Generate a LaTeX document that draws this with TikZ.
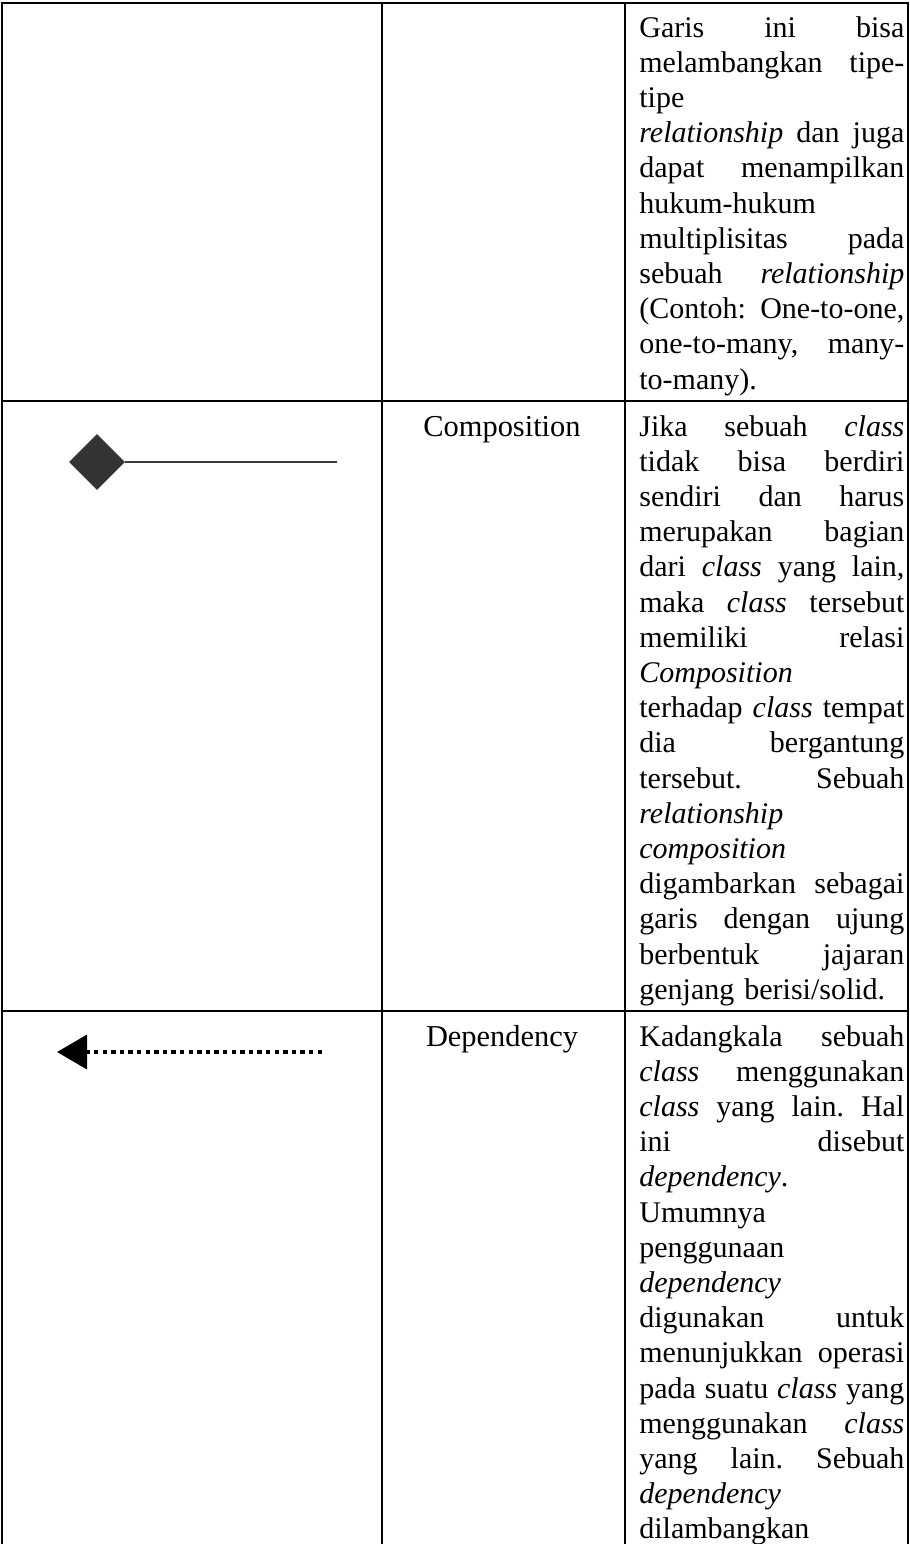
\documentclass[tikz,border=0pt]{standalone}
\usepackage{fontspec}
\setmainfont{Liberation Serif}
\usetikzlibrary{shapes.geometric,arrows.meta}
\newlength\dw
\setlength\dw{132.5pt}
\newcommand{\jl}[1]{\leavevmode\hbox to\dw{#1}}
\newcommand{\g}{\hskip 0.2em plus 1fill\relax}
\definecolor{diafill}{HTML}{333333}
\definecolor{lineg}{HTML}{3A3A3A}
\begin{document}
\begin{tikzpicture}[x=0.5pt,y=-0.5pt,
  rule/.style={line width=1.25pt, black},
  desc/.style={anchor=base west, inner sep=0pt, text width=132.5pt, align=left, font=\fontsize{15pt}{17.6pt}\selectfont},
  colname/.style={anchor=base, inner sep=0pt, font=\fontsize{15.2pt}{17.6pt}\selectfont},
  compdia/.style={diamond, fill=diafill, inner sep=0pt, minimum width=28pt, minimum height=28pt},
  compline/.style={line width=1.3pt, lineg},
  depline/.style={line width=1.7pt, black, dash pattern=on 2.2pt off 2.1pt, -{Triangle[length=15pt,width=17pt]}}]
\useasboundingbox (0,0) rectangle (910,1544);
% table rules
\draw[rule] (2,1544) -- (2,3) -- (908,3) -- (908,1544);
\draw[rule] (382,3) -- (382,1544);
\draw[rule] (625,3) -- (625,1544);
\draw[rule] (2,401) -- (908,401);
\draw[rule] (2,1011) -- (908,1011);
% row 1
\node[desc] (d1) at (639,37) {\jl{Garis\g ini\g bisa}\\
\jl{melambangkan\g tipe-}\\
tipe\\
\jl{\textit{relationship}\g dan\g juga}\\
\jl{dapat\g menampilkan}\\
hukum-hukum\\
\jl{multiplisitas\g pada}\\
\jl{sebuah\g \textit{relationship}}\\
\jl{(Contoh:\g One-to-one,}\\
\jl{one-to-many,\g many-}\\
to-many).};
% row 2
\node[compdia] (dia) at (97,462) {};
\coordinate (diaend) at (337,462);
\draw[compline] (dia.east) -- (diaend);
\node[colname] (n2) at (502,436) {Composition};
\node[desc] (d2) at (639,436) {\jl{Jika\g sebuah\g \textit{class}}\\
\jl{tidak\g bisa\g berdiri}\\
\jl{sendiri\g dan\g harus}\\
\jl{merupakan\g bagian}\\
\jl{dari\g \textit{class}\g yang\g lain,}\\
\jl{maka\g \textit{class}\g tersebut}\\
\jl{memiliki\g relasi}\\
\textit{Composition}\\
\jl{terhadap\g \textit{class}\g tempat}\\
\jl{dia\g bergantung}\\
\jl{tersebut.\g Sebuah}\\
\textit{relationship}\\
\textit{composition}\\
\jl{digambarkan\g sebagai}\\
\jl{garis\g dengan\g ujung}\\
\jl{berbentuk\g jajaran}\\
genjang berisi/solid.};
% row 3
\coordinate (depstart) at (322,1052);
\coordinate (deptip) at (57,1052);
\draw[depline] (depstart) -- (deptip);
\node[colname] (n3) at (502,1046) {Dependency};
\node[desc] (d3) at (639,1046) {\jl{Kadangkala\g sebuah}\\
\jl{\textit{class}\g menggunakan}\\
\jl{\textit{class}\g yang\g lain.\g Hal}\\
\jl{ini\g disebut}\\
\textit{dependency}.\\
Umumnya\\
penggunaan\\
\textit{dependency}\\
\jl{digunakan\g untuk}\\
\jl{menunjukkan\g operasi}\\
\jl{pada\g suatu\g \textit{class}\g yang}\\
\jl{menggunakan\g \textit{class}}\\
\jl{yang\g lain.\g Sebuah}\\
\textit{dependency}\\
dilambangkan};
\end{tikzpicture}
\end{document}
